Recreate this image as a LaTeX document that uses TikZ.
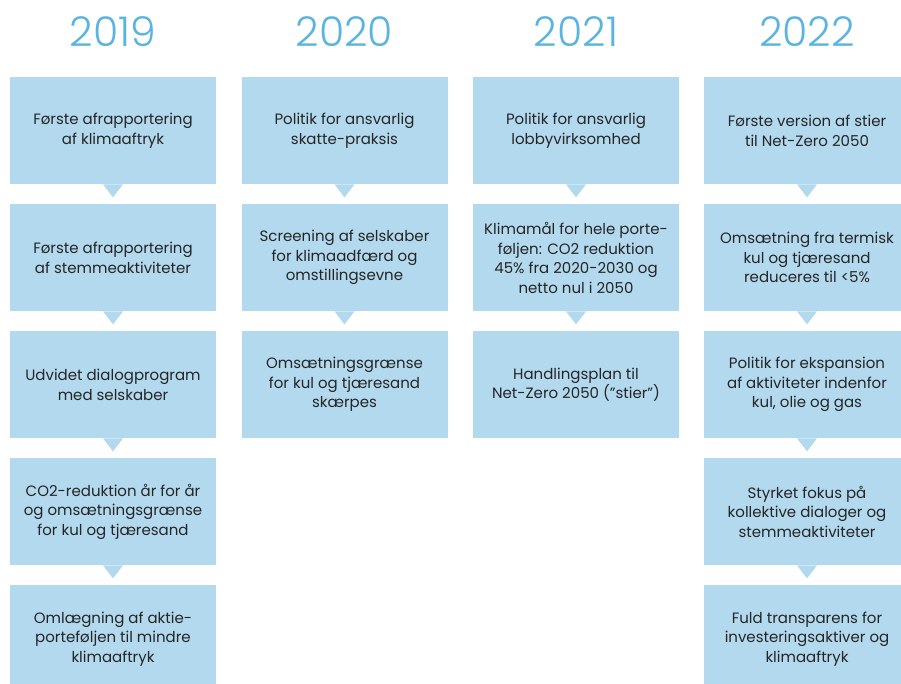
\documentclass[tikz,border=0pt]{standalone}
\usepackage{fontspec}
\setmainfont{Poppins}
\newfontfamily\yearfont{Poppins Light}
\definecolor{boxblue}{HTML}{B3D9EE}
\definecolor{yearblue}{HTML}{5AB4E0}
\definecolor{txt}{HTML}{252525}
\newcommand\boxtip[1]{\fill[tipfill] ([xshift=-10pt]#1.south) -- ([xshift=10pt]#1.south) -- ([yshift=-13pt]#1.south) -- cycle;}
\begin{document}
\begin{tikzpicture}[x=1pt,y=-1pt,
  box/.style={fill=boxblue, minimum width=206pt, minimum height=107pt, inner sep=0pt,
    align=center, text=txt, font=\fontsize{15}{19.5}\selectfont, anchor=north},
  yearlabel/.style={text=yearblue, font=\yearfont\fontsize{41}{44}\selectfont},
  tipfill/.style={fill=boxblue}]
\useasboundingbox (0,0) rectangle (901,684);
\clip (0,0) rectangle (901,684);
% years
\node[yearlabel] (y1) at (113,32) {2019};
\node[yearlabel] (y2) at (344.5,32) {2020};
\node[yearlabel] (y3) at (576,32) {2021};
\node[yearlabel] (y4) at (807,32) {2022};
% 2019
\node[box] (a1) at (113,77) {Første afrapportering\\af klimaaftryk};
\node[box] (a2) at (113,204) {Første afrapportering\\af stemmeaktiviteter};
\node[box] (a3) at (113,331) {Udvidet dialogprogram\\med selskaber};
\node[box] (a4) at (113,458) {CO2-reduktion år for år\\og omsætningsgrænse\\for kul og tjæresand};
\node[box] (a5) at (113,585) {Omlægning af aktie-\\porteføljen til mindre\\klimaaftryk};
% 2020
\node[box] (b1) at (344.5,77) {Politik for ansvarlig\\skatte-praksis};
\node[box] (b2) at (344.5,204) {Screening af selskaber\\for klimaadfærd og\\omstillingsevne};
\node[box] (b3) at (344.5,331) {Omsætningsgrænse\\for kul og tjæresand\\skærpes};
% 2021
\node[box] (c1) at (576,77) {Politik for ansvarlig\\lobbyvirksomhed};
\node[box] (c2) at (576,204) {Klimamål for hele porte-\\føljen: CO2 reduktion\\45\% fra 2020-2030 og\\netto nul i 2050};
\node[box] (c3) at (576,331) {Handlingsplan til\\Net-Zero 2050 (”stier”)};
% 2022
\node[box] (d1) at (807,77) {Første version af stier\\til Net-Zero 2050};
\node[box] (d2) at (807,204) {Omsætning fra termisk\\kul og tjæresand\\reduceres til <5\%};
\node[box] (d3) at (807,331) {Politik for ekspansion\\af aktiviteter indenfor\\kul, olie og gas};
\node[box] (d4) at (807,458) {Styrket fokus på\\kollektive dialoger og\\stemmeaktiviteter};
\node[box] (d5) at (807,585) {Fuld transparens for\\investeringsaktiver og\\klimaaftryk};
% tips
\boxtip{a1}\boxtip{a2}\boxtip{a3}\boxtip{a4}
\boxtip{b1}\boxtip{b2}
\boxtip{c1}\boxtip{c2}
\boxtip{d1}\boxtip{d2}\boxtip{d3}\boxtip{d4}
\end{tikzpicture}
\end{document}
